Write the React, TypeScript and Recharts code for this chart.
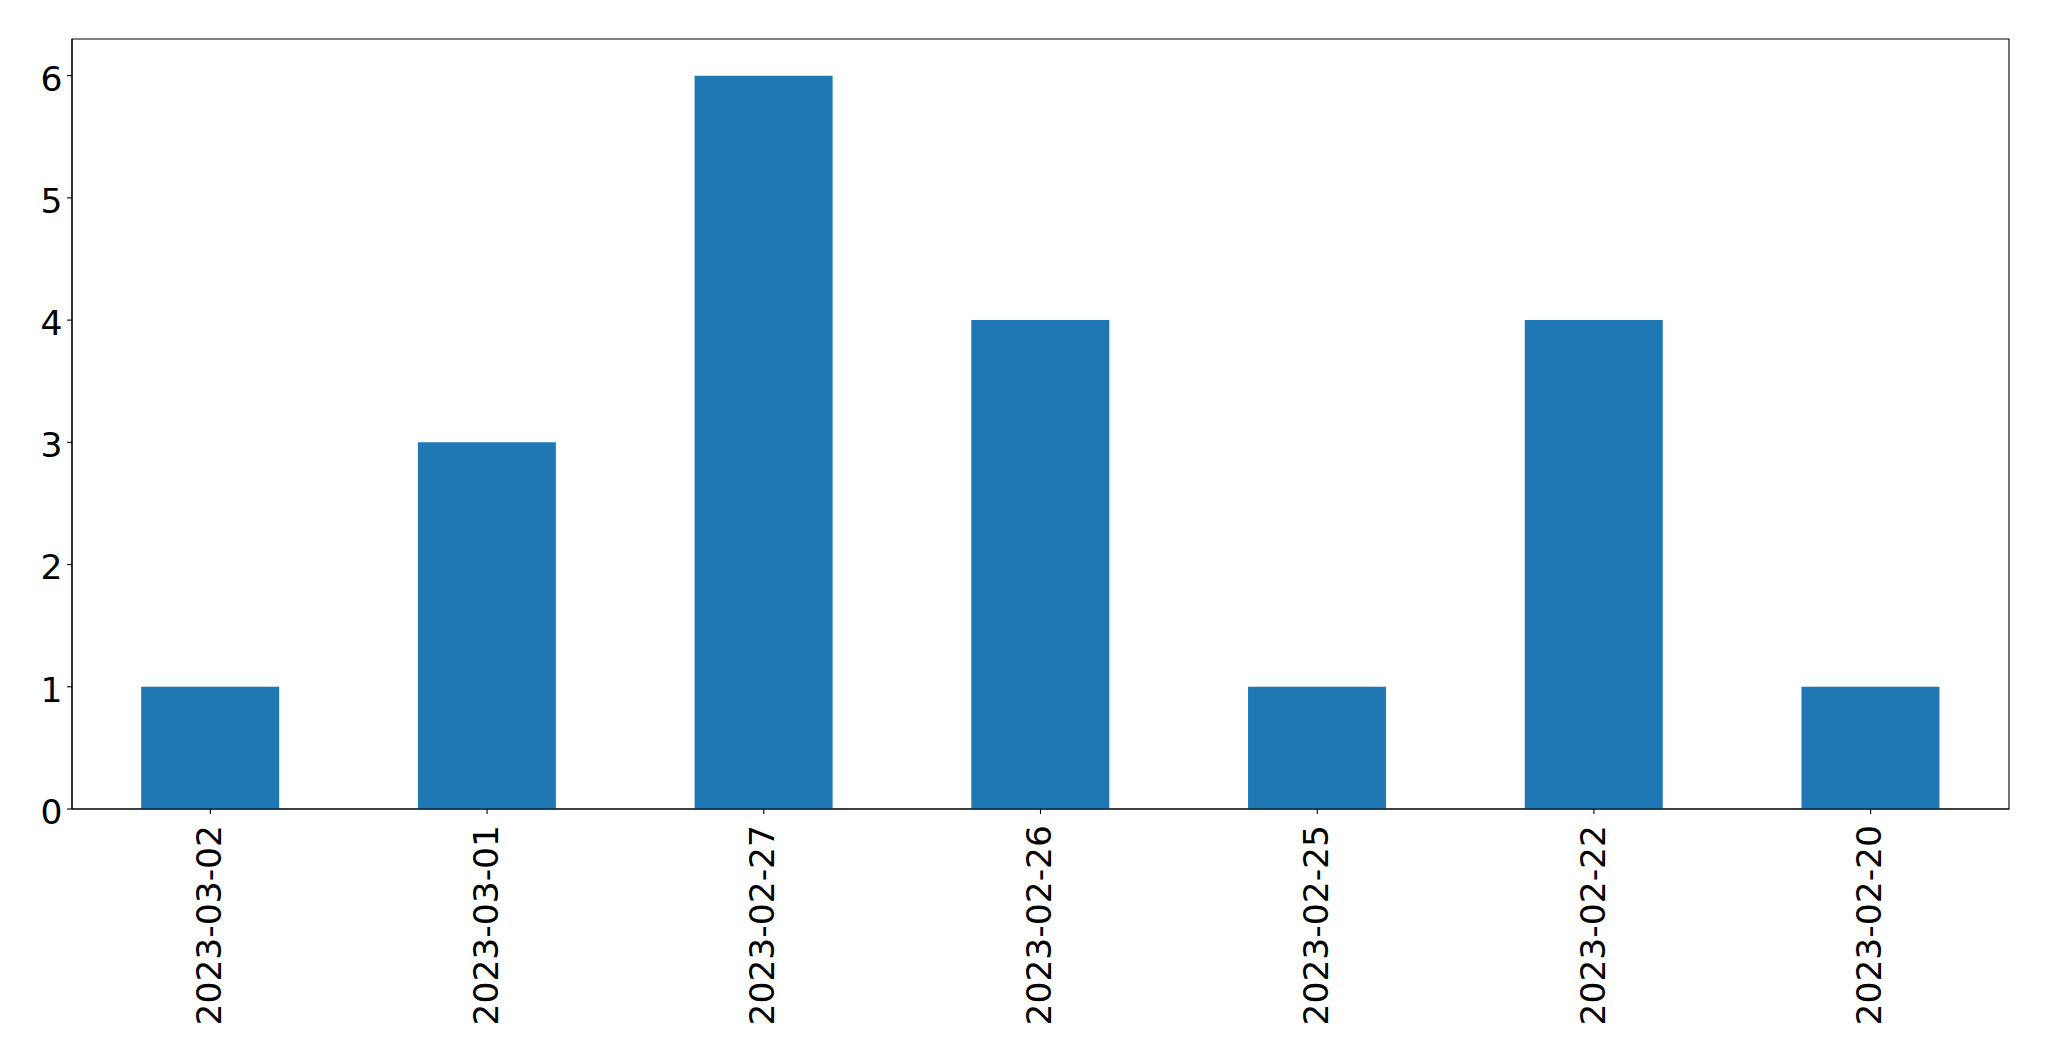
import React from "react";
import { BarChart, Bar, XAxis, YAxis, ReferenceArea } from "recharts";

const categories = ["2023-03-02", "2023-03-01", "2023-02-27", "2023-02-26", "2023-02-25", "2023-02-22", "2023-02-20"];
const counts = [1, 3, 6, 4, 1, 4, 1];
const yTicks = [0, 1, 2, 3, 4, 5, 6];
const yMax = 6.3;

const data = categories.map((c, i) => ({ date: c, count: counts[i] }));

const FONT = "'DejaVu Sans', sans-serif";
const FS = 34.5;

const RotatedTick = (props: any) => {
  const { x, y, payload } = props;
  return (
    <text
      x={x}
      y={y}
      transform={`rotate(-90, ${x}, ${y})`}
      textAnchor="end"
      dy="0.31em"
      fontSize={FS}
      fontFamily={FONT}
      fill="#000"
    >
      {payload.value}
    </text>
  );
};

const YTick = (props: any) => {
  const { x, y, payload } = props;
  return (
    <text x={x} y={y} textAnchor="end" dy="0.43em" fontSize={FS} fontFamily={FONT} fill="#000">
      {payload.value}
    </text>
  );
};

export default function App() {
  return (
    <div style={{ position: "absolute", left: 0, top: 0, width: 2049, height: 1061, background: "#fff" }}>
      <BarChart
        width={2049}
        height={1061}
        data={data}
        margin={{ top: 39, right: 40, bottom: 0, left: 0 }}
        barCategoryGap="25%"
      >
        <XAxis
          dataKey="date"
          height={252}
          interval={0}
          tick={<RotatedTick />}
          tickSize={5}
          tickMargin={11}
          axisLine={{ stroke: "#000", strokeWidth: 1.1 }}
          tickLine={{ stroke: "#000", strokeWidth: 1.1 }}
        />
        <YAxis
          width={72}
          domain={[0, yMax]}
          ticks={yTicks}
          tickSize={5}
          tickMargin={4.6}
          tick={<YTick />}
          axisLine={{ stroke: "#000", strokeWidth: 1.1 }}
          tickLine={{ stroke: "#000", strokeWidth: 1.1 }}
          allowDataOverflow
        />
        <Bar dataKey="count" fill="#1f77b4" isAnimationActive={false} />
        <ReferenceArea y1={0} y2={yMax} fill="none" fillOpacity={0} stroke="#000" strokeWidth={1.1} ifOverflow="visible" />
      </BarChart>
    </div>
  );
}
